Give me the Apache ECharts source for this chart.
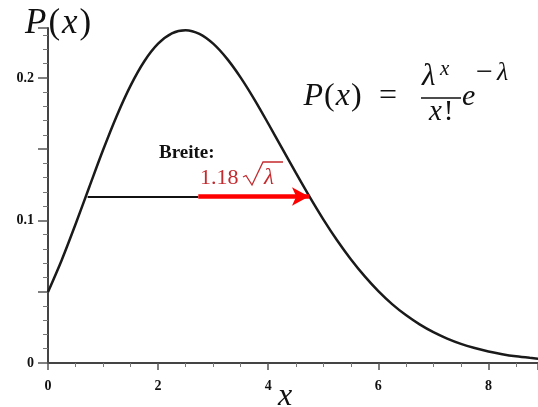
<!DOCTYPE html>
<html>
<head>
<meta charset="utf-8">
<script src="https://cdn.jsdelivr.net/npm/echarts@6/dist/echarts.min.js"></script>
<style>
html,body{margin:0;padding:0;background:#fff;}
#chartmain{width:538px;height:407px;}
</style>
</head>
<body>
<div id="chartmain"></div>
<script>
// Kurve P(x)
var xs = [0, 0.25, 0.5, 0.75, 1, 1.25, 1.5, 1.75, 2, 2.25, 2.5, 2.75, 3, 3.25, 3.5, 3.75,
    4, 4.25, 4.5, 4.75, 5, 5.25, 5.5, 5.75, 6, 6.25, 6.5, 6.75, 7, 7.25, 7.5, 7.75,
    8, 8.25, 8.5, 8.75, 9];
var ys = [0.0498, 0.0723, 0.0973, 0.1235, 0.1494, 0.1735, 0.1946, 0.2117, 0.2240, 0.2313, 0.2335, 0.2309,
    0.2240, 0.2135, 0.2002, 0.1848, 0.1680, 0.1507, 0.1335, 0.1167, 0.1008, 0.0861, 0.0728, 0.0609,
    0.0504, 0.0413, 0.0336, 0.0271, 0.0216, 0.0171, 0.0134, 0.0105, 0.0081, 0.0062, 0.0047, 0.0036, 0.0027];
var xTicks = [0, 2, 4, 6, 8];
var yTicks = [0, 0.1, 0.2];

// Breite bei halber Hoehe
var halfMax = 0.1168;
var widthLeft = 0.72;
var arrowStart = 2.73;
var widthRight = 4.74;

var curve = [];
for (var i = 0; i < xs.length; i++) {
    curve.push([xs[i], ys[i]]);
}

var serif = 'Liberation Serif';
var red = '#c42a2e';

option = {
    animation: false,
    grid: {
        left: 48,
        right: 0,
        top: 28,
        bottom: 44
    },
    xAxis: {
        type: 'value',
        min: 0,
        max: 8.9,
        interval: 2,
        splitLine: {show: false},
        axisLine: {show: true, lineStyle: {color: '#444', width: 2}},
        axisTick: {show: true, length: 7, lineStyle: {color: '#555', width: 1.5}},
        minorTick: {show: true, splitNumber: 4, length: 4, lineStyle: {color: '#777', width: 1}},
        axisLabel: {
            margin: 16,
            showMaxLabel: false,
            fontFamily: serif, fontWeight: 'bold', fontSize: 14, color: '#111',
            formatter: function (v) {
                return xTicks.indexOf(v) >= 0 ? String(v) : '';
            }
        }
    },
    yAxis: {
        type: 'value',
        min: 0,
        max: 0.235,
        interval: 0.05,
        splitLine: {show: false},
        axisLine: {show: true, lineStyle: {color: '#444', width: 2}},
        axisTick: {show: true, length: 10, lineStyle: {color: '#555', width: 1.5}},
        minorTick: {show: true, splitNumber: 5, length: 5, lineStyle: {color: '#777', width: 1}},
        axisLabel: {
            margin: 14,
            showMaxLabel: false,
            fontFamily: serif, fontWeight: 'bold', fontSize: 14, color: '#111',
            formatter: function (v) {
                for (var k = 0; k < yTicks.length; k++) {
                    if (Math.abs(v - yTicks[k]) < 1e-6) return String(yTicks[k]);
                }
                return '';
            }
        }
    },
    series: [
        {
            type: 'line',
            data: curve,
            smooth: 0.3,
            showSymbol: false,
            clip: true,
            lineStyle: {color: '#1a1a1a', width: 2.5},
            markLine: {
                silent: true,
                animation: false,
                label: {show: false},
                data: [
                    [
                        {coord: [widthLeft, halfMax], symbol: 'none', lineStyle: {color: '#111', width: 2, type: 'solid'}},
                        {coord: [arrowStart, halfMax], symbol: 'none'}
                    ],
                    [
                        {coord: [arrowStart, halfMax], symbol: 'none', lineStyle: {color: '#ff0000', width: 4.5, type: 'solid'}},
                        {coord: [widthRight, halfMax], symbol: 'arrow', symbolSize: [14, 17]}
                    ]
                ]
            }
        }
    ],
    graphic: [
        {
            type: 'text', left: 25, top: 6,
            style: {
                text: '{i|P}{n|(}{i|x}{n|)}',
                rich: {
                    i: {fontFamily: serif, fontStyle: 'italic', fontSize: 35, fill: '#111', padding: [0, 1]},
                    n: {fontFamily: serif, fontSize: 35, fill: '#111', padding: [0, 1]}
                }
            }
        },
        {
            type: 'text', x: 285, y: 397,
            style: {text: 'x', fontFamily: serif, fontStyle: 'italic', fontSize: 32, fill: '#111', align: 'center', verticalAlign: 'middle'}
        },
        // Formel
        {
            type: 'text', x: 303, y: 97,
            style: {
                text: '{i|P}{n|(}{i|x}{n|)}',
                verticalAlign: 'middle',
                rich: {
                    i: {fontFamily: serif, fontStyle: 'italic', fontSize: 32, fill: '#111', padding: [0, 0.5]},
                    n: {fontFamily: serif, fontSize: 32, fill: '#111', padding: [0, 0.5]}
                }
            }
        },
        {
            type: 'text', x: 388, y: 97,
            style: {text: '=', fontFamily: serif, fontSize: 32, fill: '#111', align: 'center', verticalAlign: 'middle'}
        },
        {
            type: 'text', x: 422, y: 77,
            style: {text: 'λ', fontFamily: serif, fontStyle: 'italic', fontSize: 31, fill: '#111', verticalAlign: 'middle'}
        },
        {
            type: 'text', x: 440, y: 69,
            style: {text: 'x', fontFamily: serif, fontStyle: 'italic', fontSize: 21, fill: '#111', verticalAlign: 'middle'}
        },
        {
            type: 'line', shape: {x1: 421, y1: 98, x2: 461, y2: 98},
            style: {stroke: '#111', lineWidth: 1.5}
        },
        {
            type: 'text', x: 429, y: 112,
            style: {
                text: '{i|x}{n|!}',
                verticalAlign: 'middle',
                rich: {
                    i: {fontFamily: serif, fontStyle: 'italic', fontSize: 29, fill: '#111', padding: [0, 2, 0, 0]},
                    n: {fontFamily: serif, fontSize: 29, fill: '#111'}
                }
            }
        },
        {
            type: 'text', x: 462, y: 97,
            style: {text: 'e', fontFamily: serif, fontStyle: 'italic', fontSize: 30, fill: '#111', verticalAlign: 'middle'}
        },
        {
            type: 'text', x: 476, y: 73,
            style: {
                text: '{m|−}{l|λ}',
                verticalAlign: 'middle',
                rich: {
                    m: {fontFamily: serif, fontSize: 30, fill: '#111', padding: [0, 4, 0, 0]},
                    l: {fontFamily: serif, fontStyle: 'italic', fontSize: 26, fill: '#111'}
                }
            }
        },
        // Beschriftung Breite
        {
            type: 'text', x: 159, y: 153,
            style: {text: 'Breite:', fontFamily: serif, fontWeight: 'bold', fontSize: 19, fill: '#111', verticalAlign: 'middle'}
        },
        {
            type: 'text', x: 200, y: 178,
            style: {text: '1.18', fontFamily: serif, fontSize: 22, fill: red, verticalAlign: 'middle'}
        },
        {
            type: 'polyline',
            shape: {points: [[243, 177], [246, 175.5], [252, 185], [263, 162], [283, 162]]},
            style: {stroke: red, lineWidth: 1.3, fill: null}
        },
        {
            type: 'text', x: 264, y: 178,
            style: {text: 'λ', fontFamily: serif, fontStyle: 'italic', fontSize: 23, fill: red, verticalAlign: 'middle'}
        }
    ]
};

var myChart = echarts.init(document.getElementById('chartmain'));
myChart.setOption(option);
</script>
</body>
</html>
